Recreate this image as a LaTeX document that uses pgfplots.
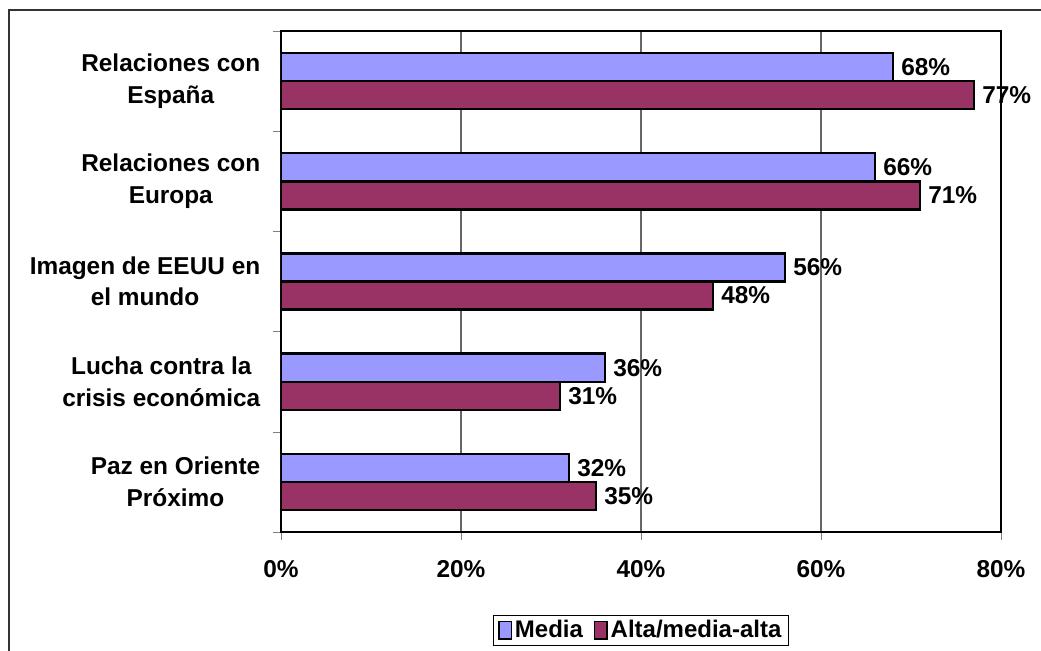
\documentclass[border=0pt]{standalone}
\usepackage{pgfplots}
\pgfplotsset{compat=1.18}
\usepackage{fontspec}
\setmainfont{Liberation Sans}
\definecolor{media}{HTML}{9999FF}
\definecolor{alta}{HTML}{993366}
\begin{document}
\begin{tikzpicture}
\useasboundingbox (-210.75pt,-88.5pt) rectangle (570pt,399pt);
\draw[line width=1pt, black!80] (-204pt,-150pt) rectangle (700pt,391.5pt);
\begin{axis}[
  xbar, scale only axis,
  width=540pt, height=375.75pt,
  xmin=0, xmax=80, ymin=-0.5, ymax=4.5,
  bar width=0.28,
  font=\fontsize{18.3}{23.5}\selectfont\bfseries,
  /pgf/number format/assume math mode=true,
  xtick={0,20,40,60,80},
  xticklabels={0\%,20\%,40\%,60\%,80\%},
  xticklabel style={yshift=-12pt},
  ytick={0,1,2,3,4},
  yticklabels={Paz en Oriente\\Próximo,Lucha contra la\\crisis económica,Imagen de EEUU en\\el mundo,Relaciones con\\Europa,Relaciones con\\España},
  yticklabel style={align=center, xshift=-6pt},
  minor ytick={-0.5,0.5,1.5,2.5,3.5,4.5},
  major y tick style={draw=none},
  tick align=outside,
  xtick pos=bottom, ytick pos=left,
  major tick length=6pt, minor tick length=6pt,
  xmajorgrids,
  major x grid style={black!60, line width=0.8pt},
  axis line style={black, line width=0.9pt},
  point meta=x,
  nodes near coords={\pgfmathprintnumber{\pgfplotspointmeta}\%},
  nodes near coords style={anchor=west, xshift=2pt, black},
  legend columns=-1,
  legend style={at={(0.5,-0.196)}, anchor=center, draw=black, line width=0.8pt,
    font=\fontsize{18}{21}\selectfont\bfseries, inner ysep=2pt,
    /tikz/every even column/.append style={column sep=6pt}},
  legend image code/.code={\draw[#1, line width=1.3pt] (0pt,-6.5pt) rectangle (9.5pt,6.5pt);},
]
\addplot[fill=media, draw=black, line width=1.8pt, bar shift=0.14]
  coordinates {(32,0) (36,1) (56,2) (66,3) (68,4)};
\addplot[fill=alta, draw=black, line width=1.8pt, bar shift=-0.14]
  coordinates {(35,0) (31,1) (48,2) (71,3) (77,4)};
\legend{Media,Alta/media-alta}
\end{axis}
\end{tikzpicture}
\end{document}
